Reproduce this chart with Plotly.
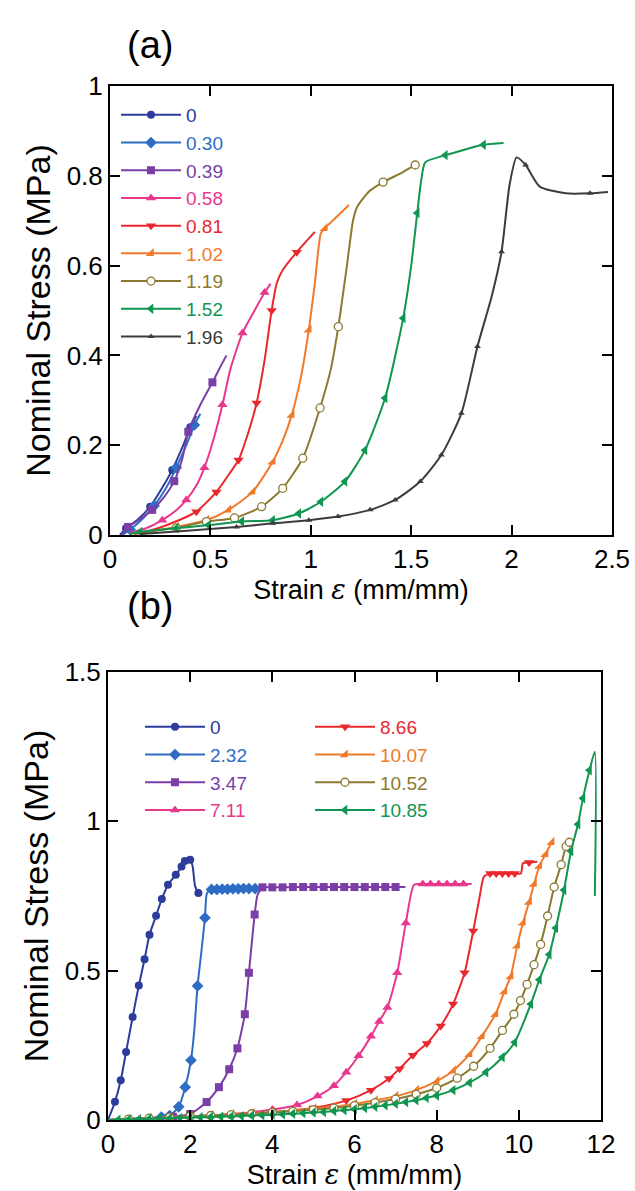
import plotly.graph_objects as go

# ---------------- Panel (a) data ----------------
A_LABELS = ["0", "0.30", "0.39", "0.58", "0.81", "1.02", "1.19", "1.52", "1.96"]

A0_X = [0.05, 0.08, 0.14, 0.20, 0.26, 0.31, 0.36, 0.40, 0.43]
A0_Y = [0.0, 0.015, 0.035, 0.063, 0.105, 0.145, 0.195, 0.24, 0.265]
A0_M = [1, 3, 5, 7]

A1_X = [0.06, 0.10, 0.16, 0.22, 0.28, 0.33, 0.38, 0.42, 0.45]
A1_Y = [0.0, 0.012, 0.035, 0.065, 0.105, 0.15, 0.20, 0.245, 0.27]
A1_M = [1, 3, 5, 7]

A2_X = [0.06, 0.09, 0.15, 0.21, 0.27, 0.32, 0.36, 0.39, 0.45, 0.51, 0.55, 0.58]
A2_Y = [0.0, 0.018, 0.035, 0.056, 0.085, 0.12, 0.17, 0.23, 0.29, 0.34, 0.375, 0.40]
A2_M = [1, 3, 5, 7, 9]

A3_X = [0.10, 0.18, 0.26, 0.33, 0.38, 0.43, 0.47, 0.52, 0.56, 0.60, 0.66, 0.72, 0.77, 0.80]
A3_Y = [0.005, 0.015, 0.033, 0.055, 0.078, 0.11, 0.15, 0.22, 0.29, 0.37, 0.45, 0.50, 0.54, 0.56]
A3_M = [2, 4, 6, 8, 10, 12]

A4_X = [0.10, 0.20, 0.30, 0.43, 0.53, 0.60, 0.64, 0.69, 0.73, 0.77, 0.805, 0.83, 0.86, 0.93, 1.02]
A4_Y = [0.003, 0.01, 0.025, 0.052, 0.096, 0.14, 0.167, 0.23, 0.294, 0.39, 0.50, 0.56, 0.59, 0.63, 0.675]
A4_M = [3, 4, 6, 8, 10, 13]

A5_X = [0.12, 0.20, 0.33, 0.48, 0.59, 0.71, 0.81, 0.86, 0.905, 0.95, 0.99, 1.02, 1.05, 1.07, 1.12, 1.19]
A5_Y = [0.003, 0.008, 0.018, 0.033, 0.056, 0.096, 0.163, 0.21, 0.267, 0.35, 0.457, 0.56, 0.672, 0.683, 0.705, 0.735]
A5_M = [2, 3, 4, 5, 6, 8, 10, 13]

A6_X = [0.12, 0.20, 0.33, 0.48, 0.62, 0.755, 0.86, 0.96, 1.046, 1.10, 1.137, 1.18, 1.21, 1.23, 1.29, 1.36, 1.45, 1.52, 1.53]
A6_Y = [0.002, 0.008, 0.016, 0.03, 0.038, 0.063, 0.104, 0.171, 0.283, 0.37, 0.464, 0.60, 0.70, 0.73, 0.765, 0.786, 0.806, 0.824, 0.825]
A6_M = [2, 3, 4, 5, 6, 7, 8, 10, 15, 17]

A7_X = [0.10, 0.15, 0.33, 0.49, 0.656, 0.81, 0.94, 1.05, 1.17, 1.27, 1.37, 1.46, 1.50, 1.53, 1.55, 1.57, 1.67, 1.86, 1.96]
A7_Y = [0.003, 0.007, 0.015, 0.022, 0.03, 0.033, 0.048, 0.074, 0.119, 0.189, 0.305, 0.483, 0.60, 0.717, 0.79, 0.83, 0.846, 0.869, 0.873]
A7_M = [1, 2, 3, 4, 5, 6, 7, 8, 9, 10, 11, 13, 16, 17]

A8_X = [0.15, 0.40, 0.63, 0.81, 0.99, 1.135, 1.295, 1.42, 1.545, 1.65, 1.75, 1.83, 1.90, 1.95, 1.99, 2.025, 2.07, 2.14, 2.27, 2.39, 2.48]
A8_Y = [0.002, 0.01, 0.018, 0.026, 0.033, 0.041, 0.056, 0.078, 0.119, 0.178, 0.271, 0.42, 0.53, 0.631, 0.78, 0.841, 0.824, 0.776, 0.761, 0.761, 0.764]
A8_M = [2, 3, 4, 5, 6, 7, 8, 9, 10, 11, 13, 16, 19]

# ---------------- Panel (b) data ----------------
B_LABELS = ["0", "2.32", "3.47", "7.11", "8.66", "10.07", "10.52", "10.85"]

B0_X = [0.0, 0.17, 0.31, 0.44, 0.60, 0.75, 0.89, 1.01, 1.17, 1.31, 1.46, 1.65, 1.79, 1.87, 2.0, 2.06, 2.12, 2.2]
B0_Y = [0.0, 0.061, 0.133, 0.228, 0.345, 0.45, 0.538, 0.62, 0.684, 0.74, 0.788, 0.821, 0.849, 0.867, 0.871, 0.85, 0.783, 0.76]
B0_M = [1, 2, 3, 4, 5, 6, 7, 8, 9, 10, 11, 12, 13, 14, 17]

B1_X = [0.0, 0.5, 1.0, 1.3, 1.5, 1.72, 1.88, 2.02, 2.10, 2.18, 2.27, 2.36, 2.41, 2.52, 2.65, 2.78, 2.91, 3.04, 3.17, 3.30, 3.43, 3.58]
B1_Y = [0.0, 0.003, 0.007, 0.01, 0.015, 0.044, 0.11, 0.2, 0.3, 0.449, 0.56, 0.677, 0.76, 0.772, 0.772, 0.773, 0.773, 0.774, 0.774, 0.775, 0.775, 0.775]
B1_M = [3, 4, 5, 6, 7, 9, 11, 13, 14, 15, 16, 17, 18, 19, 20, 21]

B2_X = [0.0, 0.5, 1.0, 1.58, 2.0, 2.4, 2.7, 2.95, 3.15, 3.33, 3.43, 3.57, 3.64, 3.76, 4.0, 4.25, 4.5, 4.75, 5.0, 5.25, 5.5, 5.75, 6.0, 6.25, 6.5, 6.75, 7.0, 7.24]
B2_Y = [0.0, 0.003, 0.006, 0.011, 0.02, 0.06, 0.11, 0.17, 0.24, 0.354, 0.493, 0.688, 0.754, 0.779, 0.779, 0.779, 0.78, 0.78, 0.78, 0.78, 0.78, 0.78, 0.78, 0.78, 0.78, 0.78, 0.78, 0.78]
B2_M = [3, 4, 5, 6, 7, 8, 9, 10, 11, 13, 14, 15, 16, 17, 18, 19, 20, 21, 22, 23, 24, 25, 26]

B3_X = [0.0, 1.0, 2.0, 3.0, 4.0, 4.6, 5.1, 5.5, 5.8, 6.1, 6.4, 6.6, 6.8, 7.04, 7.25, 7.45, 7.66, 7.85, 8.05, 8.25, 8.45, 8.65, 8.85]
B3_Y = [0.0, 0.006, 0.012, 0.02, 0.035, 0.05, 0.08, 0.115, 0.16, 0.215, 0.28, 0.33, 0.377, 0.493, 0.66, 0.788, 0.79, 0.79, 0.79, 0.79, 0.79, 0.79, 0.79]
B3_M = [4, 5, 6, 7, 8, 9, 10, 11, 12, 13, 14, 16, 17, 18, 19, 20, 21]

B4_X = [0.0, 1.0, 2.0, 3.0, 4.0, 5.0, 5.8, 6.4, 6.84, 7.10, 7.42, 7.76, 8.10, 8.40, 8.68, 8.89, 9.05, 9.15, 9.30, 9.45, 9.60, 9.75, 9.90, 10.05, 10.10, 10.25, 10.45]
B4_Y = [0.0, 0.005, 0.01, 0.017, 0.026, 0.04, 0.065, 0.10, 0.139, 0.172, 0.217, 0.256, 0.315, 0.388, 0.493, 0.633, 0.75, 0.815, 0.825, 0.825, 0.825, 0.825, 0.825, 0.825, 0.86, 0.862, 0.865]
B4_M = [5, 6, 7, 8, 9, 10, 11, 12, 13, 14, 15, 18, 19, 20, 21, 22, 25]

B5_X = [0.0, 0.5, 1.0, 1.5, 2.0, 2.5, 3.0, 3.5, 4.0, 4.5, 5.0, 5.5, 6.0, 6.5, 7.0, 7.5, 8.0, 8.4, 8.8, 9.1, 9.43, 9.65, 9.80, 9.96, 10.10, 10.25, 10.37, 10.50, 10.65, 10.80]
B5_Y = [0.0, 0.003, 0.006, 0.009, 0.012, 0.015, 0.019, 0.023, 0.027, 0.032, 0.038, 0.045, 0.054, 0.066, 0.08, 0.10, 0.13, 0.165, 0.22, 0.28, 0.354, 0.43, 0.48, 0.583, 0.66, 0.73, 0.79, 0.85, 0.89, 0.93]
B5_M = list(range(1, 30))

B6_X = [0.0, 0.5, 1.0, 1.5, 2.0, 2.5, 3.0, 3.5, 4.0, 4.5, 5.0, 5.5, 6.0, 6.5, 7.0, 7.5, 8.0, 8.5, 8.9, 9.3, 9.6, 9.88, 10.04, 10.20, 10.37, 10.53, 10.70, 10.86, 11.03, 11.15, 11.23]
B6_Y = [0.0, 0.003, 0.006, 0.009, 0.012, 0.015, 0.018, 0.021, 0.025, 0.029, 0.034, 0.04, 0.048, 0.058, 0.07, 0.086, 0.107, 0.14, 0.18, 0.24, 0.30, 0.354, 0.40, 0.454, 0.52, 0.588, 0.683, 0.78, 0.855, 0.916, 0.93]
B6_M = list(range(1, 31))

B7_X = [0.0, 0.25, 0.5, 0.75, 1.0, 1.25, 1.5, 1.75, 2.0, 2.25, 2.5, 2.75, 3.0, 3.25, 3.5, 3.75,
        4.0, 4.25, 4.5, 4.75, 5.0, 5.25, 5.5, 5.75, 6.0, 6.25, 6.5, 6.75, 7.0, 7.25, 7.5, 7.75,
        8.0, 8.4, 8.8, 9.2, 9.6, 9.9, 10.29, 10.50, 10.74, 10.90, 11.10, 11.27, 11.44, 11.56, 11.72, 11.85, 11.85]
B7_Y = [0.0, 0.001, 0.002, 0.003, 0.004, 0.005, 0.006, 0.007, 0.008, 0.009, 0.01, 0.011, 0.012, 0.013, 0.015, 0.016,
        0.018, 0.019, 0.021, 0.023, 0.025, 0.027, 0.03, 0.033, 0.036, 0.04, 0.044, 0.049, 0.054, 0.06, 0.066, 0.074,
        0.082, 0.10, 0.125, 0.16, 0.21, 0.26, 0.388, 0.47, 0.554, 0.643, 0.77, 0.90, 0.99, 1.077, 1.171, 1.233, 0.75]
B7_M = list(range(1, 47))

# ---------------- styles ----------------
COLORS = ["#2B3C9C", "#2E6DC4", "#7A3EA6", "#E8388E", "#E8282E", "#F07A2A", "#8A7A30", "#109650", "#3C3C3C"]
SYMBOLS = ["circle", "diamond", "square", "triangle-up", "triangle-down", "triangle-se", "circle", "triangle-left", "triangle-up"]
SIZES = [8, 9, 8, 9, 9, 9, 8, 9, 6]
FONT = "Liberation Sans, Arial, sans-serif"

fig = go.Figure()


def add_series(x, y, midx, k, xa, ya, legend, label):
    color = COLORS[k]
    fill = "white" if k == 6 else color
    mline = dict(color=color, width=1.3) if k == 6 else dict(width=0)
    common_marker = dict(symbol=SYMBOLS[k], size=SIZES[k], color=fill, line=mline)
    fig.add_trace(go.Scatter(x=x, y=y, mode="lines", xaxis=xa, yaxis=ya,
                             line=dict(color=color, width=2, shape="spline", smoothing=0.6),
                             showlegend=False, hoverinfo="skip"))
    fig.add_trace(go.Scatter(x=[x[i] for i in midx], y=[y[i] for i in midx], mode="markers",
                             xaxis=xa, yaxis=ya, marker=common_marker, showlegend=False))
    fig.add_trace(go.Scatter(x=[None], y=[None], mode="lines+markers", xaxis=xa, yaxis=ya,
                             line=dict(color=color, width=2), marker=common_marker,
                             name="<span style='color:%s'>%s</span>" % (color, label),
                             legend=legend, showlegend=True))


A_SERIES = [(A0_X, A0_Y, A0_M), (A1_X, A1_Y, A1_M), (A2_X, A2_Y, A2_M), (A3_X, A3_Y, A3_M),
            (A4_X, A4_Y, A4_M), (A5_X, A5_Y, A5_M), (A6_X, A6_Y, A6_M), (A7_X, A7_Y, A7_M),
            (A8_X, A8_Y, A8_M)]
for k, (x, y, m) in enumerate(A_SERIES):
    add_series(x, y, m, k, "x", "y", "legend", A_LABELS[k])

B_SERIES = [(B0_X, B0_Y, B0_M), (B1_X, B1_Y, B1_M), (B2_X, B2_Y, B2_M), (B3_X, B3_Y, B3_M),
            (B4_X, B4_Y, B4_M), (B5_X, B5_Y, B5_M), (B6_X, B6_Y, B6_M), (B7_X, B7_Y, B7_M)]
for k, (x, y, m) in enumerate(B_SERIES):
    add_series(x, y, m, k, "x2", "y2", "legend2" if k < 4 else "legend3", B_LABELS[k])

W, H = 635, 1191
axis_common = dict(showline=True, linewidth=2, linecolor="black", mirror="ticks",
                   ticks="inside", ticklen=10, tickwidth=2, tickcolor="black",
                   showgrid=False, zeroline=False, automargin=False,
                   tickfont=dict(family=FONT, size=26, color="black"))
xtitle = "Strain <i><span style='font-family:DejaVu Serif'>ε</span></i> (mm/mm)"
ytitle = "Nominal Stress (MPa)"
leg_common = dict(xanchor="left", yanchor="top", bgcolor="rgba(0,0,0,0)",
                  font=dict(family=FONT, size=19), tracegroupgap=0, itemwidth=60)

fig.update_layout(
    template="none",
    width=W, height=H, margin=dict(l=0, r=0, t=0, b=0, autoexpand=False),
    paper_bgcolor="white", plot_bgcolor="white",
    font=dict(family=FONT, color="black"),
    xaxis=dict(domain=[110 / W, 612 / W], range=[0, 2.5], dtick=0.5, anchor="y",
               title=dict(text=xtitle, font=dict(size=27), standoff=6), **axis_common),
    yaxis=dict(domain=[1 - 535 / H, 1 - 86 / H], range=[0, 1], dtick=0.2, anchor="x",
               tickvals=[0, 0.2, 0.4, 0.6, 0.8, 1], ticktext=["0", "0.2", "0.4", "0.6", "0.8", "1"],
               title=dict(text=ytitle, font=dict(size=34), standoff=6), **axis_common),
    xaxis2=dict(domain=[108 / W, 601 / W], range=[0, 12], dtick=2, anchor="y2",
                title=dict(text=xtitle, font=dict(size=27), standoff=6), **axis_common),
    yaxis2=dict(domain=[1 - 1120 / H, 1 - 672 / H], range=[0, 1.5], dtick=0.5, anchor="x2",
                tickvals=[0, 0.5, 1, 1.5], ticktext=["0", "0.5", "1", "1.5"],
                title=dict(text=ytitle, font=dict(size=34), standoff=6), **axis_common),
    legend=dict(x=116 / W, y=1 - 96 / H, **leg_common),
    legend2=dict(x=140 / W, y=1 - 708 / H, **leg_common),
    legend3=dict(x=310 / W, y=1 - 708 / H, **leg_common),
    annotations=[
        dict(text="(a)", x=150 / W, y=1 - 45 / H, xref="paper", yref="paper", showarrow=False,
             xanchor="center", yanchor="middle", font=dict(family=FONT, size=38, color="black")),
        dict(text="(b)", x=150 / W, y=1 - 606 / H, xref="paper", yref="paper", showarrow=False,
             xanchor="center", yanchor="middle", font=dict(family=FONT, size=38, color="black")),
    ],
)

fig.write_html("out.html", config={"displayModeBar": False},
               post_script="document.body.style.margin='0px';document.body.style.overflow='hidden';")
